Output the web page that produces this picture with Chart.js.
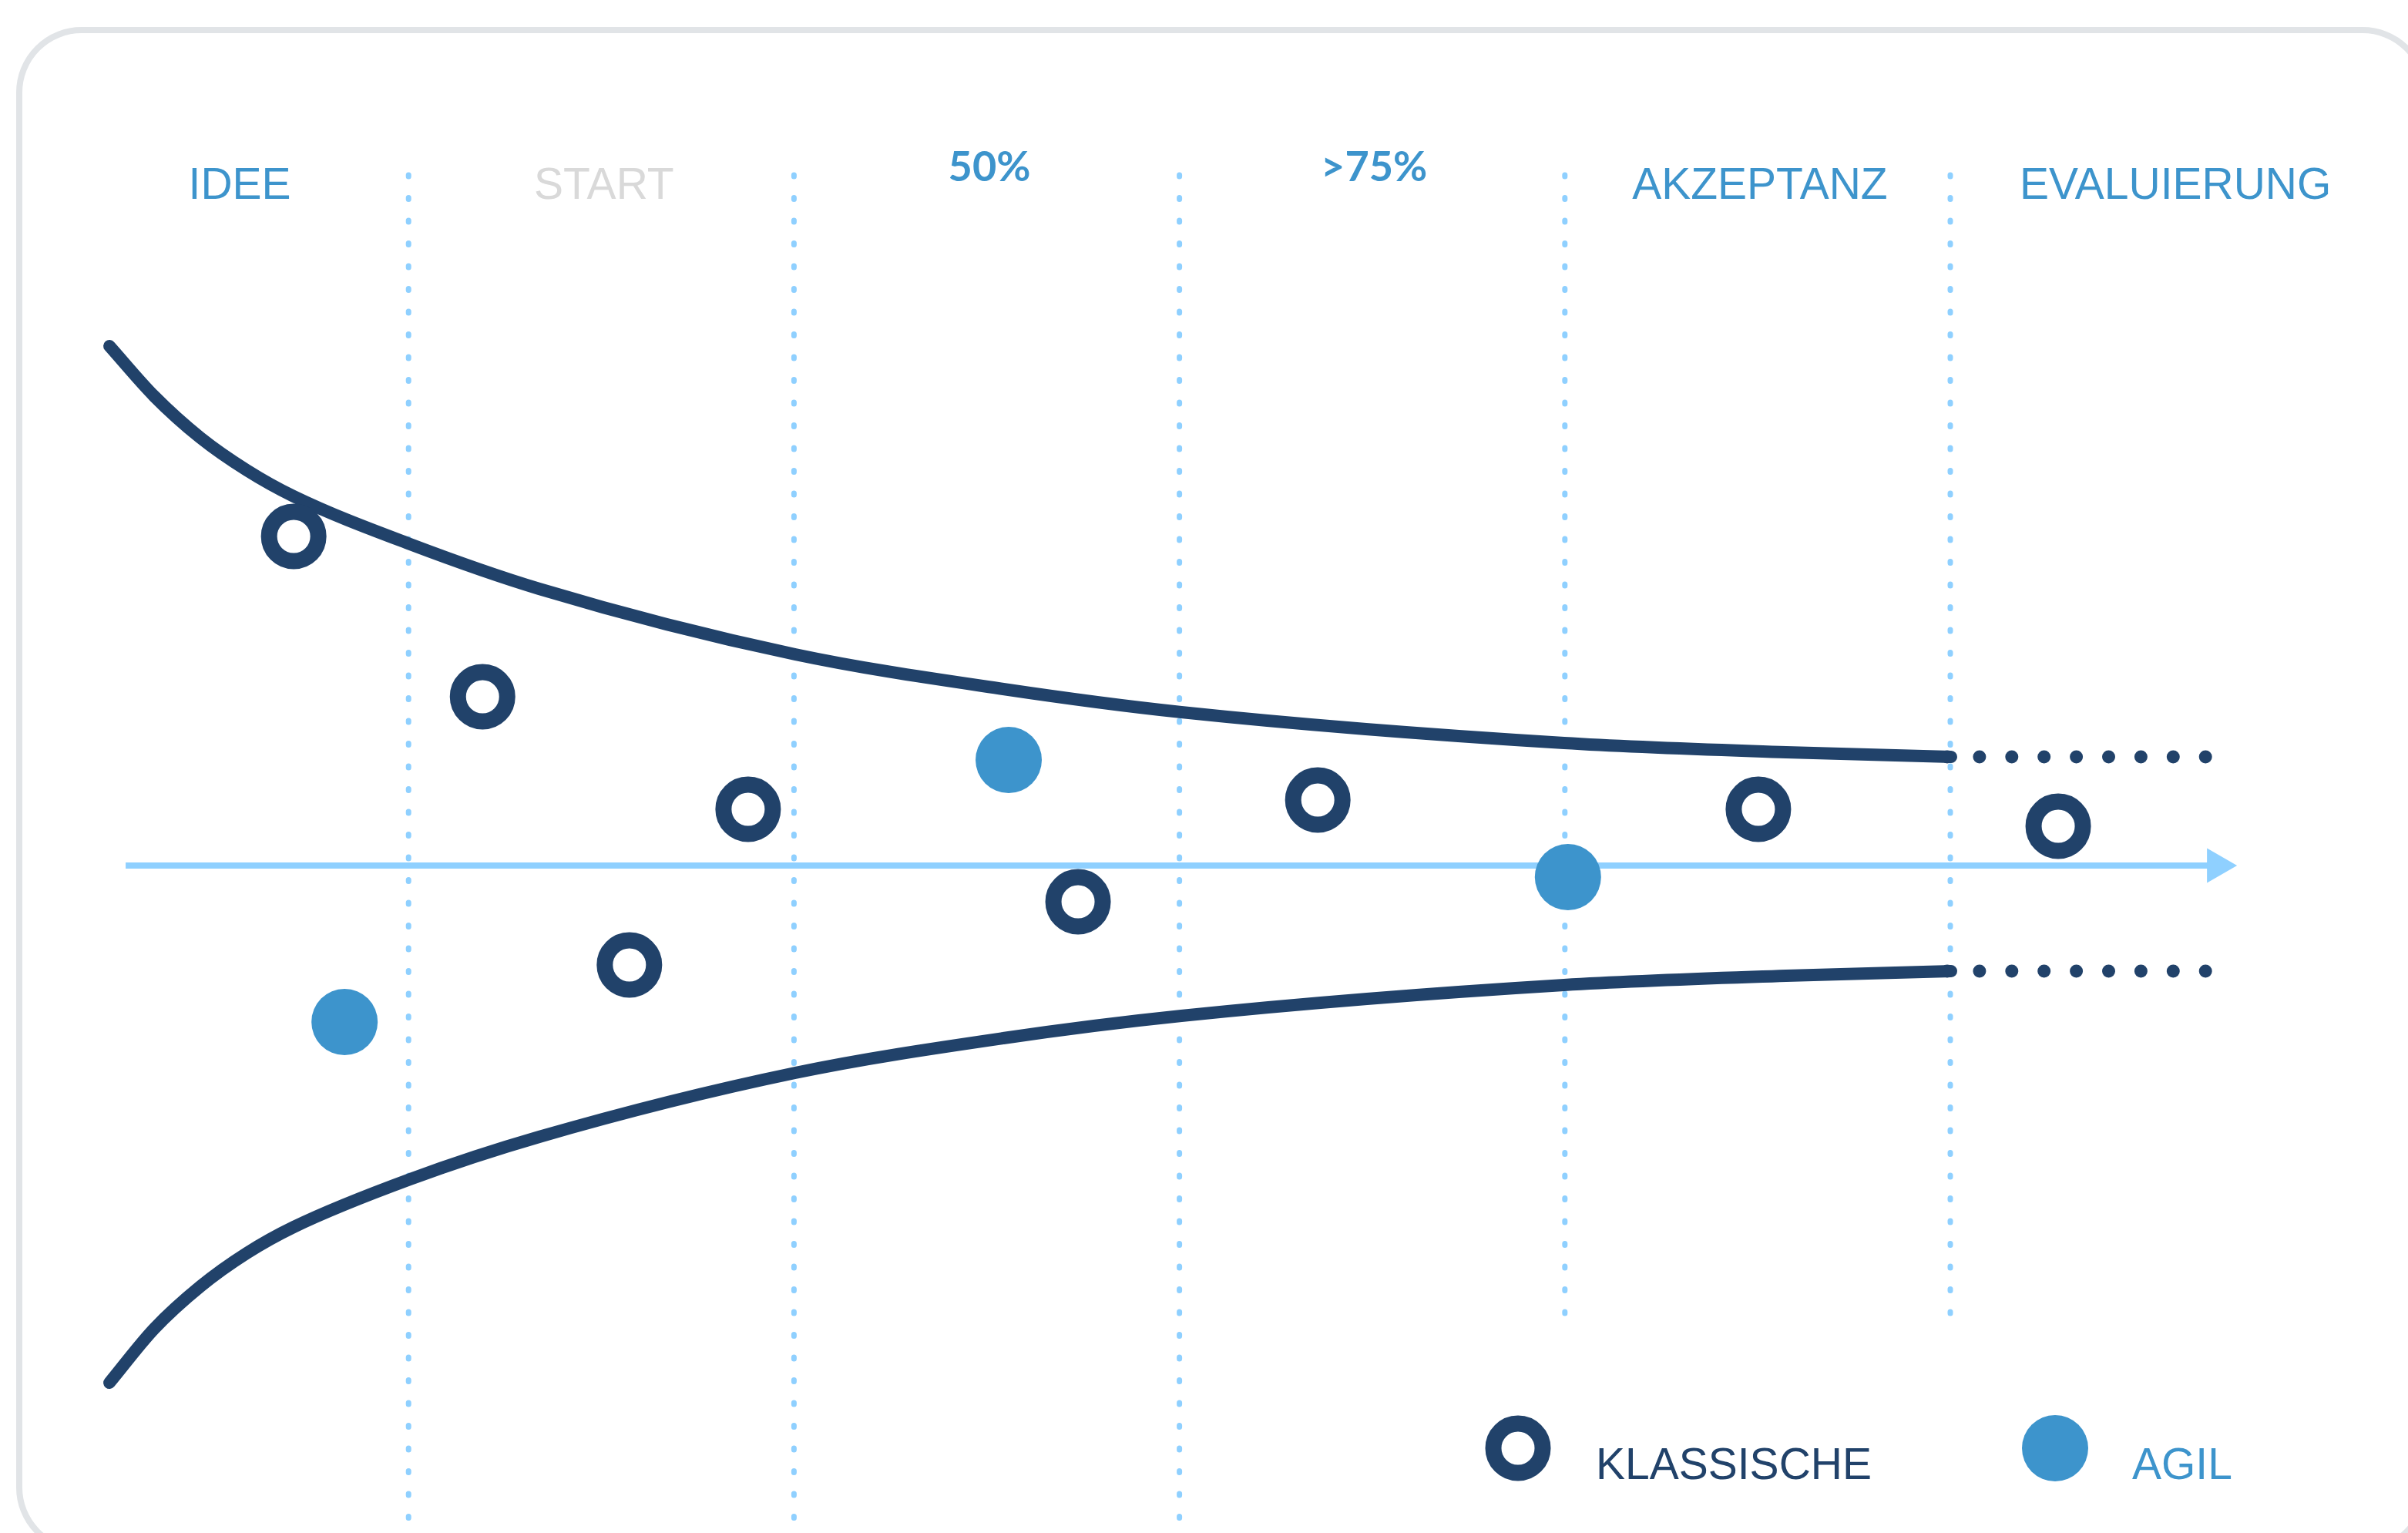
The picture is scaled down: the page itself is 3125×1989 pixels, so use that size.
<!DOCTYPE html>
<html lang="de">
<head>
<meta charset="utf-8">
<title>Klassische vs. agile Projekte</title>
<script src="https://cdn.jsdelivr.net/npm/chart.js@4.4.1/dist/chart.umd.min.js"></script>
<style>
  html, body { margin: 0; padding: 0; background: #fff; overflow: hidden; }
  #wrap { position: relative; width: 3125px; height: 1989px; overflow: hidden; }
  #frame {
    position: absolute; left: 21px; top: 35px;
    width: 3130px; height: 1980px; box-sizing: border-box;
    border: 8px solid #e1e4e7; border-radius: 85px;
  }
  #chart { position: absolute; left: 0; top: 0; }
</style>
</head>
<body>
<div id="wrap">
  <div id="frame"></div>
  <canvas id="chart" width="3125" height="1989"></canvas>
</div>
<script>
// x = project phase (boundaries at 1..5), y = deviation from plan
const phases = ['IDEE', 'START', '50%', '>75%', 'AKZEPTANZ', 'EVALUIERUNG'];
const phaseLabelX = [0.562, 1.507, 2.507, 3.505, 4.506, 5.584];
const phaseBounds = [1, 2, 3, 4, 5];

// upper and lower edge of the funnel
const funnelX = [0.224, 0.340, 0.460, 0.580, 0.702, 1.004, 1.339, 2.003, 2.543, 3.005, 3.998, 4.574, 5.002];
const upperY = [67.4, 60.9, 55.5, 51.3, 47.9, 41.7, 35.9, 27.4, 22.9, 19.9, 15.9, 14.7, 14.1];
const lowerY = [-67.1, -60.1, -54.6, -50.3, -46.9, -40.7, -35.2, -26.9, -22.4, -19.5, -15.5, -14.3, -13.7];
const funnelEndX = 5.666;

// projects
const klassischX = [0.702, 1.192, 1.573, 1.881, 2.737, 3.359, 4.502, 5.280];
const klassischY = [42.7, 21.9, -12.9, 7.3, -4.7, 8.5, 7.3, 5.1];
const agilX = [0.834, 2.557, 4.008];
const agilY = [-20.3, 13.7, -1.5];

// time arrow
const arrowX = [0.266, 5.692];

const NAVY = '#21426a';
const BLUE = '#3d94cc';
const LIGHT = '#8fd0ff';

const pts = (xs, ys) => xs.map((x, i) => ({ x, y: ys[i] }));

const phaseStyles = [
  { font: '57px "Liberation Sans", Arial, sans-serif', color: BLUE, base: 258 },
  { font: '57px "Liberation Sans", Arial, sans-serif', color: '#d9d9d9', base: 258 },
  { font: 'bold 54px Lato, sans-serif', color: BLUE, base: 235 },
  { font: 'bold 54px Lato, sans-serif', color: BLUE, base: 235 },
  { font: '57px "Liberation Sans", Arial, sans-serif', color: BLUE, base: 258 },
  { font: '57px "Liberation Sans", Arial, sans-serif', color: BLUE, base: 258 }
];

const phaseLabels = {
  id: 'phaseLabels',
  afterDraw(chart) {
    const { ctx, scales: { x } } = chart;
    ctx.save();
    ctx.textAlign = 'center';
    ctx.textBaseline = 'alphabetic';
    phases.forEach((name, i) => {
      const s = phaseStyles[i];
      ctx.font = s.font;
      ctx.fillStyle = s.color;
      ctx.fillText(name, x.getPixelForValue(phaseLabelX[i]), s.base);
    });
    ctx.restore();
  }
};

// legend at the bottom right, uses the scatter datasets' styles
const bottomLegend = {
  id: 'bottomLegend',
  afterDraw(chart) {
    const ctx = chart.ctx;
    const items = [
      { ds: chart.data.datasets[0], cx: 1970, tx: 2071 },
      { ds: chart.data.datasets[1], cx: 2667, tx: 2767 }
    ];
    ctx.save();
    ctx.font = '57px "Liberation Sans", Arial, sans-serif';
    ctx.textBaseline = 'alphabetic';
    items.forEach(it => {
      const d = it.ds;
      ctx.beginPath();
      ctx.arc(it.cx, 1879, d.pointRadius, 0, Math.PI * 2);
      ctx.fillStyle = d.pointBackgroundColor;
      ctx.fill();
      if (d.pointBorderWidth) {
        ctx.lineWidth = d.pointBorderWidth;
        ctx.strokeStyle = d.pointBorderColor;
        ctx.stroke();
      }
      ctx.fillStyle = d.labelColor;
      ctx.fillText(d.label, it.tx, 1919);
    });
    ctx.restore();
  }
};

const boundLines = phaseBounds.map(b => ({
  type: 'line',
  data: [{ x: b, y: 89.6 }, { x: b, y: b <= 3 ? -85.0 : -58.2 }],
  borderColor: LIGHT,
  borderWidth: 7,
  borderDash: [2, 27.5],
  borderCapStyle: 'round',
  pointRadius: 0,
  order: 6
}));

const funnelLine = ys => ({
  type: 'line',
  data: pts(funnelX, ys),
  borderColor: NAVY,
  borderWidth: 16,
  borderCapStyle: 'round',
  borderJoinStyle: 'round',
  cubicInterpolationMode: 'monotone',
  pointRadius: 0,
  order: 2
});

const funnelTail = ys => ({
  type: 'line',
  data: [{ x: 4.992, y: ys[ys.length - 1] }, { x: funnelEndX, y: ys[ys.length - 1] }],
  borderColor: NAVY,
  borderWidth: 17,
  borderDash: [0, 41.9],
  borderCapStyle: 'round',
  pointRadius: 0,
  order: 3
});

new Chart(document.getElementById('chart'), {
  data: {
    datasets: [
      {
        type: 'scatter',
        label: 'KLASSISCHE',
        labelColor: NAVY,
        data: pts(klassischX, klassischY),
        pointRadius: 32,
        pointBorderWidth: 21,
        pointBackgroundColor: '#ffffff',
        pointBorderColor: NAVY,
        backgroundColor: '#ffffff',
        borderColor: NAVY,
        order: 0
      },
      {
        type: 'scatter',
        label: 'AGIL',
        labelColor: BLUE,
        data: pts(agilX, agilY),
        pointRadius: 43,
        pointBorderWidth: 0,
        pointBackgroundColor: BLUE,
        pointBorderColor: BLUE,
        backgroundColor: BLUE,
        borderColor: BLUE,
        order: 1
      },
      funnelLine(upperY),
      funnelLine(lowerY),
      funnelTail(upperY),
      funnelTail(lowerY),
      {
        type: 'line',
        data: arrowX.map(x => ({ x, y: 0 })),
        borderColor: LIGHT,
        borderWidth: 8,
        pointRadius: [0, 26],
        pointStyle: 'triangle',
        pointRotation: 90,
        pointBackgroundColor: LIGHT,
        pointBorderWidth: 0,
        order: 5
      },
      ...boundLines
    ]
  },
  options: {
    responsive: false,
    devicePixelRatio: 1,
    animation: false,
    events: [],
    layout: { padding: 0, autoPadding: false },
    scales: {
      x: { type: 'linear', min: -0.05998, max: 6.1875, display: false },
      y: { type: 'linear', min: -86.6, max: 112.3, display: false }
    },
    plugins: {
      legend: { display: false },
      tooltip: { enabled: false }
    }
  },
  plugins: [phaseLabels, bottomLegend]
});
</script>
</body>
</html>
